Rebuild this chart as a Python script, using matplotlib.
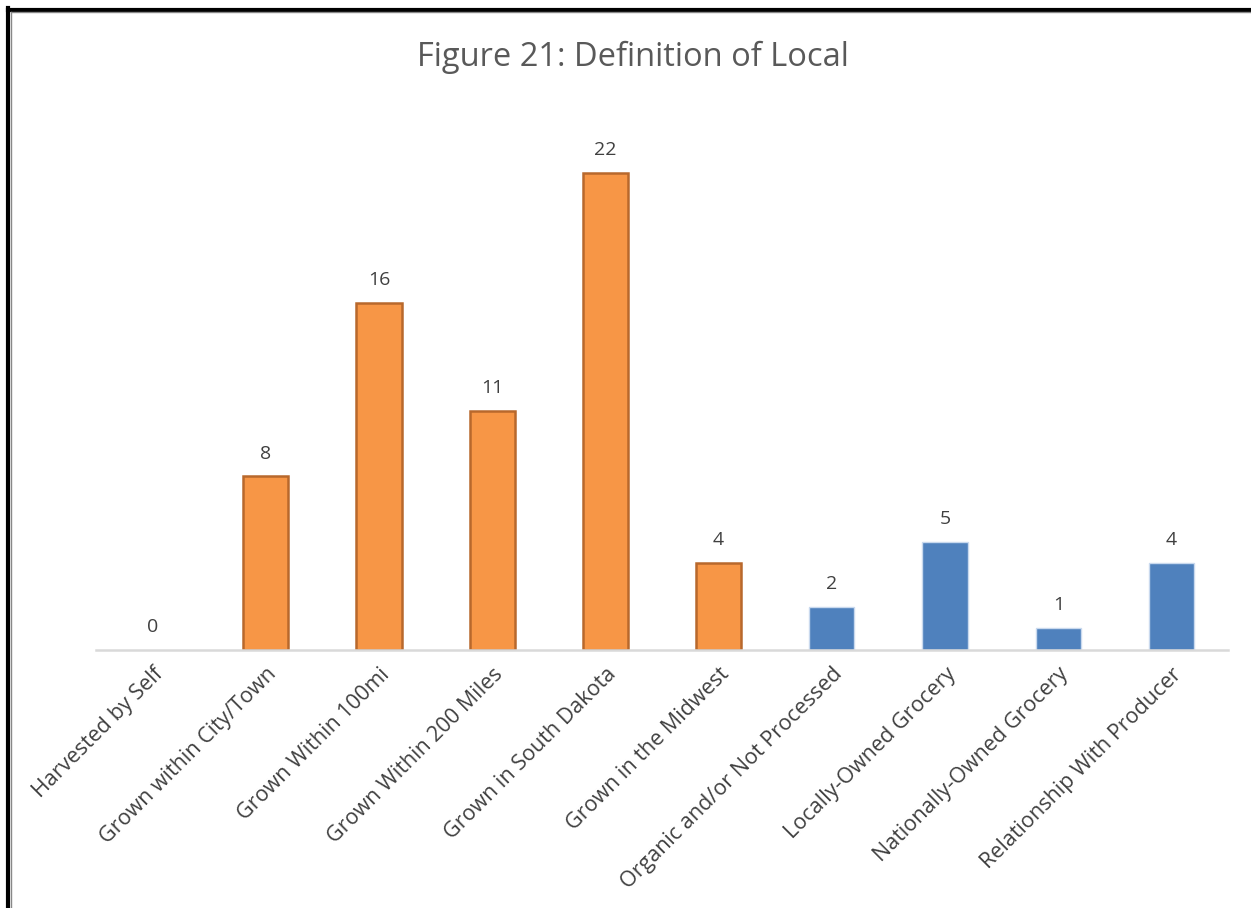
import matplotlib.pyplot as plt
from matplotlib.lines import Line2D

categories = [
    "Harvested by Self",
    "Grown within City/Town",
    "Grown Within 100mi",
    "Grown Within 200 Miles",
    "Grown in South Dakota",
    "Grown in the Midwest",
    "Organic and/or Not Processed",
    "Locally-Owned Grocery",
    "Nationally-Owned Grocery",
    "Relationship With Producer",
]
counts = [0, 8, 16, 11, 22, 4, 2, 5, 1, 4]
# first six answers are about where food is grown, the rest about who sells it
group = ["place"] * 6 + ["other"] * 4

face = {"place": "#F79646", "other": "#4F81BD"}
edge = {"place": "#B8682C", "other": "#C9D9EE"}
edge_lw = {"place": 1.8, "other": 1.0}

plt.rcParams["font.family"] = ["Open Sans", "DejaVu Sans"]

fig = plt.figure(figsize=(12.51, 9.08), dpi=100)
ax = fig.add_axes([0.0767, 0.2841, 0.905, 0.5975])

x = range(len(categories))
for i, v, g in zip(x, counts, group):
    if v == 0:
        continue
    ax.bar(i, v, width=0.4, color=face[g], edgecolor=edge[g], linewidth=edge_lw[g], zorder=3)

for i, v in zip(x, counts):
    ax.annotate(str(v), (i, v), xytext=(0, 10), textcoords="offset points",
                ha="center", va="bottom", fontsize=14, color="#404040")

ax.set_xlim(-0.5, len(categories) - 0.5)
ax.set_ylim(0, 25)
ax.set_yticks([])
ax.set_xticks(list(x))
ax.set_xticklabels(categories, rotation=45, ha="right", rotation_mode="anchor",
                   fontsize=15.5, color="#404040")
ax.tick_params(axis="x", length=0, pad=10)
for s in ["top", "right", "left"]:
    ax.spines[s].set_visible(False)
ax.spines["bottom"].set_color("#D9D9D9")
ax.spines["bottom"].set_linewidth(1.8)
ax.spines["bottom"].set_zorder(4)

fig.text(0.506, 0.937, "Figure 21: Definition of Local", ha="center", va="center",
         fontsize=23.5, color="#595959")

# page frame lines at the top and left
H, W = 908, 1251
fig.add_artist(Line2D([8 / W, 8 / W], [0, 1 - 8 / H], color="black", lw=3))
fig.add_artist(Line2D([8 / W, 1], [1 - 10 / H, 1 - 10 / H], color="black", lw=3))
fig.add_artist(Line2D([11 / W, 11 / W], [0, 1 - 12 / H], color="#888888", lw=1))
fig.add_artist(Line2D([11 / W, 1], [1 - 12 / H, 1 - 12 / H], color="#888888", lw=1))

fig.savefig("out.png", dpi=100)
